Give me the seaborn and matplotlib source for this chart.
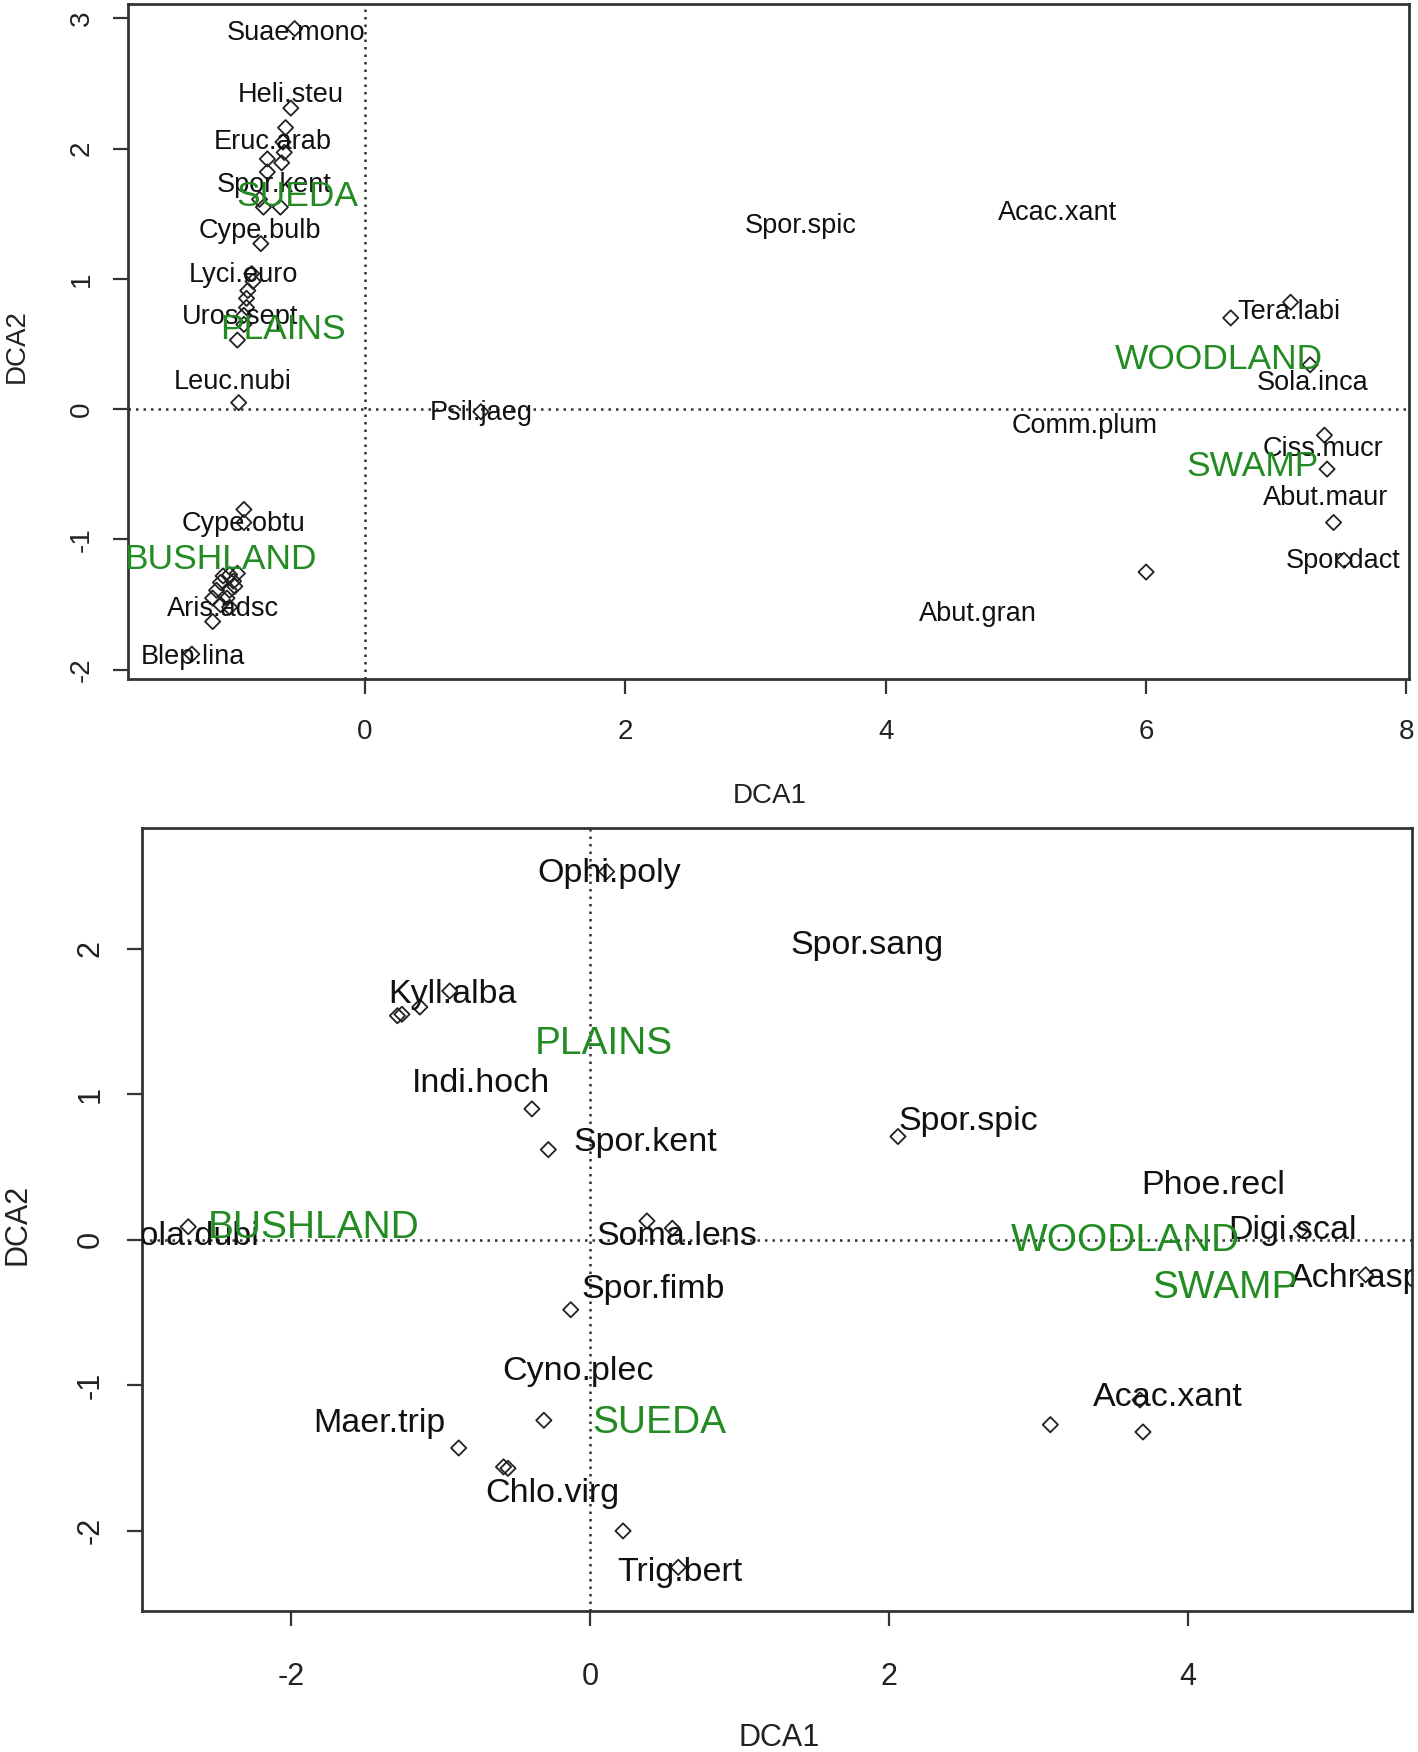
import matplotlib
matplotlib.use("Agg")
import matplotlib.pyplot as plt
import pandas as pd
import seaborn as sns

sns.set_theme(style="white")
plt.rcParams["font.family"] = ["Liberation Sans", "DejaVu Sans"]
plt.rcParams["axes.unicode_minus"] = False

GREEN = "#228B22"

# ---- upper DCA panel ----
top_pt_x = [-0.54, -0.57, -0.61, -0.63, -0.62, -0.75, -0.64, -0.75, -0.81, -0.78,
            -0.65, -0.80, -0.87, -0.86, -0.90, -0.91, -0.91, -0.93, -0.93, -0.98,
            -0.97, 0.89, -0.93, -0.93, -0.98, -1.04, -1.09, -1.01, -1.11, -1.00,
            -1.04, -1.14, -1.17, -1.06, -1.11, -1.04, -1.17, -1.33,
            6.65, 7.11, 7.26, 7.37, 7.39, 7.44, 7.52, 6.00]
top_pt_y = [2.92, 2.31, 2.16, 2.05, 1.97, 1.92, 1.89, 1.82, 1.61, 1.55,
            1.55, 1.27, 1.04, 0.98, 0.91, 0.85, 0.78, 0.72, 0.65, 0.53,
            0.05, -0.02, -0.77, -0.87, -1.26, -1.27, -1.28, -1.32, -1.33, -1.36,
            -1.39, -1.39, -1.45, -1.45, -1.50, -1.52, -1.63, -1.88,
            0.70, 0.82, 0.34, -0.20, -0.46, -0.87, -1.16, -1.25]

top_species = ["Suae.mono", "Heli.steu", "Eruc.arab", "Spor.kent", "Cype.bulb",
               "Lyci.euro", "Uros.sept", "Leuc.nubi", "Psil.jaeg", "Spor.spic",
               "Acac.xant", "Tera.labi", "Sola.inca", "Comm.plum", "Ciss.mucr",
               "Abut.maur", "Spor.dact", "Abut.gran", "Cype.obtu", "Aris.adsc",
               "Blep.lina"]
top_sp_x = [-0.53, -0.57, -0.71, -0.70, -0.81, -0.93, -0.96, -1.02, 0.89, 3.35,
            5.32, 7.10, 7.28, 5.53, 7.36, 7.38, 7.51, 4.71, -0.93, -1.09, -1.32]
top_sp_y = [2.91, 2.43, 2.07, 1.74, 1.39, 1.05, 0.73, 0.23, -0.01, 1.43,
            1.53, 0.77, 0.22, -0.11, -0.28, -0.66, -1.14, -1.55, -0.86, -1.51, -1.88]

top_groups = ["SUEDA", "PLAINS", "WOODLAND", "SWAMP", "BUSHLAND"]
top_grp_x = [-0.52, -0.63, 6.56, 6.82, -1.11]
top_grp_y = [1.66, 0.64, 0.41, -0.41, -1.13]

# ---- lower DCA panel ----
bot_pt_x = [0.11, -1.29, -1.26, -1.14, -0.94, -0.39, -0.28, 2.06, 0.38, 0.55,
            -2.69, 4.76, 5.19, -0.13, -0.31, -0.88, -0.58, -0.55, 0.22, 0.59,
            3.08, 3.70, 3.68]
bot_pt_y = [2.53, 1.54, 1.55, 1.60, 1.71, 0.90, 0.62, 0.71, 0.13, 0.08,
            0.09, 0.07, -0.24, -0.48, -1.24, -1.43, -1.56, -1.57, -2.00, -2.25,
            -1.27, -1.32, -1.10]

bot_species = ["Ophi.poly", "Spor.sang", "Kyll.alba", "Indi.hoch", "Spor.kent",
               "Spor.spic", "Phoe.recl", "Digi.scal", "Achr.aspe", "Soma.lens",
               "Sola.dubi", "Spor.fimb", "Cyno.plec", "Maer.trip", "Chlo.virg",
               "Trig.bert", "Acac.xant"]
bot_sp_x = [0.13, 1.85, -0.92, -0.73, 0.37, 2.53, 4.17, 4.70, 5.19, 0.58,
            -2.69, 0.42, -0.08, -1.41, -0.25, 0.60, 3.87]
bot_sp_y = [2.54, 2.05, 1.71, 1.10, 0.69, 0.84, 0.40, 0.09, -0.24, 0.05,
            0.05, -0.32, -0.88, -1.24, -1.72, -2.26, -1.06]

bot_groups = ["PLAINS", "BUSHLAND", "WOODLAND", "SWAMP", "SUEDA"]
bot_grp_x = [0.09, -1.85, 3.58, 4.25, 0.46]
bot_grp_y = [1.37, 0.11, 0.02, -0.30, -1.23]


def draw_panel(ax, px, py, sp, sx, sy, grp, gx, gy, xlim, ylim, xticks, yticks,
               fs_tick, fs_sp, fs_grp, xpad, ypad, xlab_pos, ylab_pos):
    pts = pd.DataFrame({"DCA1": px, "DCA2": py})
    sns.scatterplot(data=pts, x="DCA1", y="DCA2", marker="D", s=60,
                    facecolor="none", edgecolor="#222222", linewidth=1.3,
                    ax=ax, zorder=3)
    dots = (0, (1, 2))
    ax.axhline(0, color="#333333", linestyle=dots, linewidth=1.8, zorder=1)
    ax.axvline(0, color="#333333", linestyle=dots, linewidth=1.8, zorder=1)

    # species labels and group names are clipped to the plot box, as in R
    for name, x, y in zip(sp, sx, sy):
        ax.text(x, y, name, ha="center", va="center_baseline", fontsize=fs_sp,
                color="#111111", clip_on=True, zorder=4)
    for name, x, y in zip(grp, gx, gy):
        ax.text(x, y, name, ha="center", va="center_baseline", fontsize=fs_grp,
                color=GREEN, clip_on=True, zorder=5)

    ax.set_xlim(*xlim)
    ax.set_ylim(*ylim)
    ax.set_xticks(xticks)
    ax.set_yticks(yticks)
    ax.set_xlabel("")
    ax.set_ylabel("")
    for s in ax.spines.values():
        s.set_visible(True)
        s.set_color("#333333")
        s.set_linewidth(2)
    ax.tick_params(axis="both", direction="out", length=11, width=1.6,
                   color="#333333", labelsize=fs_tick, labelcolor="#222222",
                   bottom=True, left=True)
    ax.tick_params(axis="x", pad=xpad)
    ax.tick_params(axis="y", pad=ypad)
    for lab in ax.get_yticklabels():
        lab.set_rotation(90)
        lab.set_va("center")
    ax.text(xlab_pos[0], xlab_pos[1], "DCA1", transform=ax.transAxes,
            ha="center", va="center", fontsize=fs_tick, color="#222222")
    ax.text(ylab_pos[0], ylab_pos[1], "DCA2", transform=ax.transAxes,
            ha="center", va="center", rotation=90, fontsize=fs_tick, color="#222222")


fig = plt.figure(figsize=(14.18, 17.52), dpi=100)
ax1 = fig.add_axes([0.0903, 0.6125, 0.9034, 0.3853])
ax2 = fig.add_axes([0.1001, 0.0805, 0.8956, 0.4469])

draw_panel(ax1, top_pt_x, top_pt_y, top_species, top_sp_x, top_sp_y,
           top_groups, top_grp_x, top_grp_y,
           (-1.82, 8.02), (-2.07, 3.11), [0, 2, 4, 6, 8], [-2, -1, 0, 1, 2, 3],
           20, 19.5, 25.5, 18, 13, (0.501, -0.173), (-0.087, 0.493))
draw_panel(ax2, bot_pt_x, bot_pt_y, bot_species, bot_sp_x, bot_sp_y,
           bot_groups, bot_grp_x, bot_grp_y,
           (-3.0, 5.5), (-2.55, 2.83), [-2, 0, 2, 4], [-2, -1, 0, 1, 2],
           22, 24.5, 28, 26, 15, (0.502, -0.162), (-0.098, 0.494))

fig.savefig("out.png", dpi=100, facecolor="white")
